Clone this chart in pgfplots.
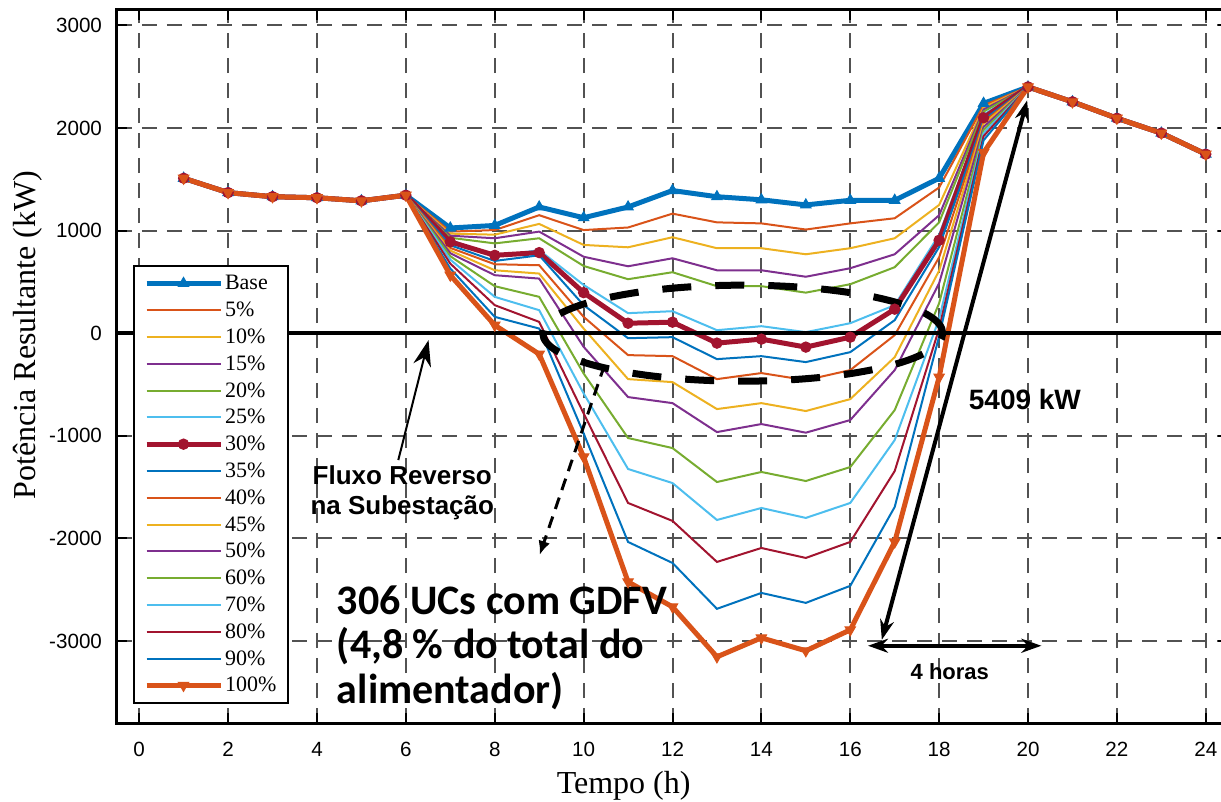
\documentclass[border=0pt]{standalone}
\usepackage{fontspec}
\setmainfont{Liberation Serif}
\newfontfamily\arial{Liberation Sans}
\newfontfamily\calibri{Carlito}
\usepackage{pgfplots}
\usepackage{pgfplotstable}
\pgfplotsset{compat=1.18}
\usetikzlibrary{arrows.meta}
\definecolor{c1}{rgb}{0,0.447,0.741}
\definecolor{c2}{rgb}{0.85,0.325,0.098}
\definecolor{c3}{rgb}{0.929,0.694,0.125}
\definecolor{c4}{rgb}{0.494,0.184,0.556}
\definecolor{c5}{rgb}{0.466,0.674,0.188}
\definecolor{c6}{rgb}{0.301,0.745,0.933}
\definecolor{c7}{rgb}{0.635,0.078,0.184}
\pgfplotstableread{
h base p5 p10 p15 p20 p25 p30 p35 p40 p45 p50 p60 p70 p80 p90 p100
1 1510 1510 1510 1510 1510 1510 1510 1510 1510 1510 1510 1510 1510 1510 1510 1510
2 1370 1370 1370 1370 1370 1370 1370 1370 1370 1370 1370 1370 1370 1370 1370 1370
3 1330 1330 1330 1330 1330 1330 1330 1330 1330 1330 1330 1330 1330 1330 1330 1330
4 1320 1320 1320 1320 1320 1320 1320 1320 1320 1320 1320 1320 1320 1320 1320 1320
5 1290 1290 1290 1290 1290 1290 1290 1290 1290 1290 1290 1290 1290 1290 1290 1290
6 1345 1345 1345 1345 1345 1345 1345 1345 1345 1345 1345 1345 1345 1345 1345 1345
7 1025 990 970 950 930 910 890 857 831 805 779 750 717 678 630 565
8 1050 1005 960 925 875 745 759 704 672 613 565 458 354 273 159 78
9 1230 1150 1065 990 925 810 785 759 662 581 532 354 224 110 45 -204
10 1125 1005 860 745 655 470 395 273 159 45 -133 -393 -587 -782 -977 -1207
11 1230 1030 837 652 526 195 97 -49 -214 -448 -623 -1022 -1324 -1655 -2035 -2424
12 1390 1165 935 730 594 214 107 -39 -224 -477 -682 -1120 -1461 -1830 -2240 -2668
13 1330 1080 828 613 458 29 -97 -253 -448 -740 -964 -1451 -1821 -2230 -2687 -3155
14 1300 1070 828 613 458 68 -58 -224 -389 -682 -886 -1353 -1704 -2094 -2532 -2970
15 1250 1010 769 550 395 10 -136 -282 -458 -759 -970 -1441 -1801 -2191 -2629 -3096
16 1295 1070 828 633 477 97 -39 -185 -360 -643 -847 -1305 -1655 -2035 -2463 -2892
17 1295 1120 925 769 643 273 234 127 -19 -234 -360 -750 -1042 -1344 -1694 -2035
18 1510 1420 1250 1150 1080 960 906 840 740 610 487 292 140 45 -30 -428
19 2240 2220 2200 2180 2160 2130 2100 2080 2060 2040 2010 1980 1950 1920 1880 1760
20 2400 2400 2400 2400 2400 2400 2400 2400 2400 2400 2400 2400 2400 2400 2400 2400
21 2255 2255 2255 2255 2255 2255 2255 2255 2255 2255 2255 2255 2255 2255 2255 2255
22 2095 2095 2095 2095 2095 2095 2095 2095 2095 2095 2095 2095 2095 2095 2095 2095
23 1950 1950 1950 1950 1950 1950 1950 1950 1950 1950 1950 1950 1950 1950 1950 1950
24 1745 1745 1745 1745 1745 1745 1745 1745 1745 1745 1745 1745 1745 1745 1745 1745
}\data
\begin{document}
\begin{tikzpicture}
\begin{axis}[
  scale only axis, width=555.5pt, height=356.5pt,
  xmin=-0.5, xmax=24.5, ymin=-3800, ymax=3150,
  xtick={0,2,...,24}, ytick={-3000,-2000,...,3000},
  grid=major,
  major grid style={black!68, line width=1pt, dash pattern=on 7.5pt off 5pt},
  tick align=inside, major tick length=5pt,
  every tick/.style={black, line width=1pt},
  axis line style={line width=1.5pt},
  tick label style={font=\arial\fontsize{10.3}{12}\selectfont},
  /pgf/number format/assume math mode=true,
  /pgf/number format/1000 sep={},
  xticklabel style={yshift=-6pt},
  yticklabel style={xshift=-4pt},
  xlabel={Tempo (h)}, ylabel={Potência Resultante (kW)},
  label style={font=\fontsize{16}{19}\selectfont},
  xlabel style={at={(axis description cs:0.456,-0.0884)}, anchor=center},
  ylabel style={at={(axis description cs:-0.0803,0.544)}, anchor=center},
  legend style={at={(axis description cs:0.0144,0.6424)}, anchor=north west,
    font=\fontsize{11}{13}\selectfont, draw=black, line width=1pt,
    inner xsep=5pt, inner ysep=2pt, row sep=0pt,
    nodes={inner sep=1pt, text height=9pt, text depth=2.4pt}, cells={anchor=west}},
  legend image code/.code={\draw[mark repeat=2,mark phase=2,#1] plot coordinates {(0pt,0pt) (18.5pt,0pt) (37pt,0pt)};},
]
\addplot[c1, line width=2.5pt, mark=triangle*, mark size=3pt, mark options={solid, line width=0.5pt}] table[x=h,y=base]{\data};
\addlegendentry{Base}
\addplot[c2, line width=1pt] table[x=h,y=p5]{\data};
\addlegendentry{5\%}
\addplot[c3, line width=1pt] table[x=h,y=p10]{\data};
\addlegendentry{10\%}
\addplot[c4, line width=1pt] table[x=h,y=p15]{\data};
\addlegendentry{15\%}
\addplot[c5, line width=1pt] table[x=h,y=p20]{\data};
\addlegendentry{20\%}
\addplot[c6, line width=1pt] table[x=h,y=p25]{\data};
\addlegendentry{25\%}
\addplot[c7, line width=2.5pt, mark=*, mark size=2.6pt, mark options={solid, line width=0.5pt}] table[x=h,y=p30]{\data};
\addlegendentry{30\%}
\addplot[c1, line width=1pt] table[x=h,y=p35]{\data};
\addlegendentry{35\%}
\addplot[c2, line width=1pt] table[x=h,y=p40]{\data};
\addlegendentry{40\%}
\addplot[c3, line width=1pt] table[x=h,y=p45]{\data};
\addlegendentry{45\%}
\addplot[c4, line width=1pt] table[x=h,y=p50]{\data};
\addlegendentry{50\%}
\addplot[c5, line width=1pt] table[x=h,y=p60]{\data};
\addlegendentry{60\%}
\addplot[c6, line width=1pt] table[x=h,y=p70]{\data};
\addlegendentry{70\%}
\addplot[c7, line width=1pt] table[x=h,y=p80]{\data};
\addlegendentry{80\%}
\addplot[c1, line width=1pt] table[x=h,y=p90]{\data};
\addlegendentry{90\%}
\addplot[c2, line width=2.5pt, mark=triangle*, mark size=3pt, mark options={solid, rotate=180, line width=0.5pt}] table[x=h,y=p100]{\data};
\addlegendentry{100\%}

\draw[black, line width=2pt] (axis cs:-0.5,0) -- (axis cs:24.5,0);
\draw[black, line width=3.5pt, dash pattern=on 14.5pt off 12pt] (axis cs:13.58,0) ellipse [x radius=100pt, y radius=24pt];
\draw[black, line width=1.5pt, dash pattern=on 6pt off 4pt, -{Latex[length=7pt,width=6pt]}] (axis cs:10.47,-312) -- (axis cs:9.01,-2162);
\draw[black, line width=1pt, -{Stealth[length=13pt,width=9pt]}] (axis cs:5.83,-1237) -- (axis cs:6.51,-68);
\node[align=center, font=\arial\bfseries\fontsize{13}{15}\selectfont] at (axis cs:5.92,-1558) {Fluxo Reverso\\na Subestação};
\draw[black, line width=2pt, {Stealth[length=10pt,width=7pt]}-{Stealth[length=10pt,width=7pt]}] (axis cs:19.98,2269) -- (axis cs:16.71,-2989);
\node[font=\arial\bfseries\fontsize{14}{16}\selectfont] at (axis cs:19.93,-643) {5409 kW};
\draw[black, line width=2pt, {Stealth[length=10pt,width=7pt]}-{Stealth[length=10pt,width=7pt]}] (axis cs:16.4,-3047) -- (axis cs:20.3,-3047);
\node[font=\arial\bfseries\fontsize{11}{13}\selectfont] at (axis cs:18.24,-3301) {4 horas};
\node[anchor=west, align=left, inner sep=0pt, font=\calibri\bfseries\fontsize{21}{22.3}\selectfont] at (axis cs:4.44,-3067) {306 UCs com GDFV\\(4,8 \% do total do\\alimentador)};
\end{axis}
\pgfresetboundingbox
\path[use as bounding box] ([shift={(-58.5pt,-39pt)}]current axis.south west) rectangle ([shift={(-3.5pt,5pt)}]current axis.north east);
\end{tikzpicture}
\end{document}
